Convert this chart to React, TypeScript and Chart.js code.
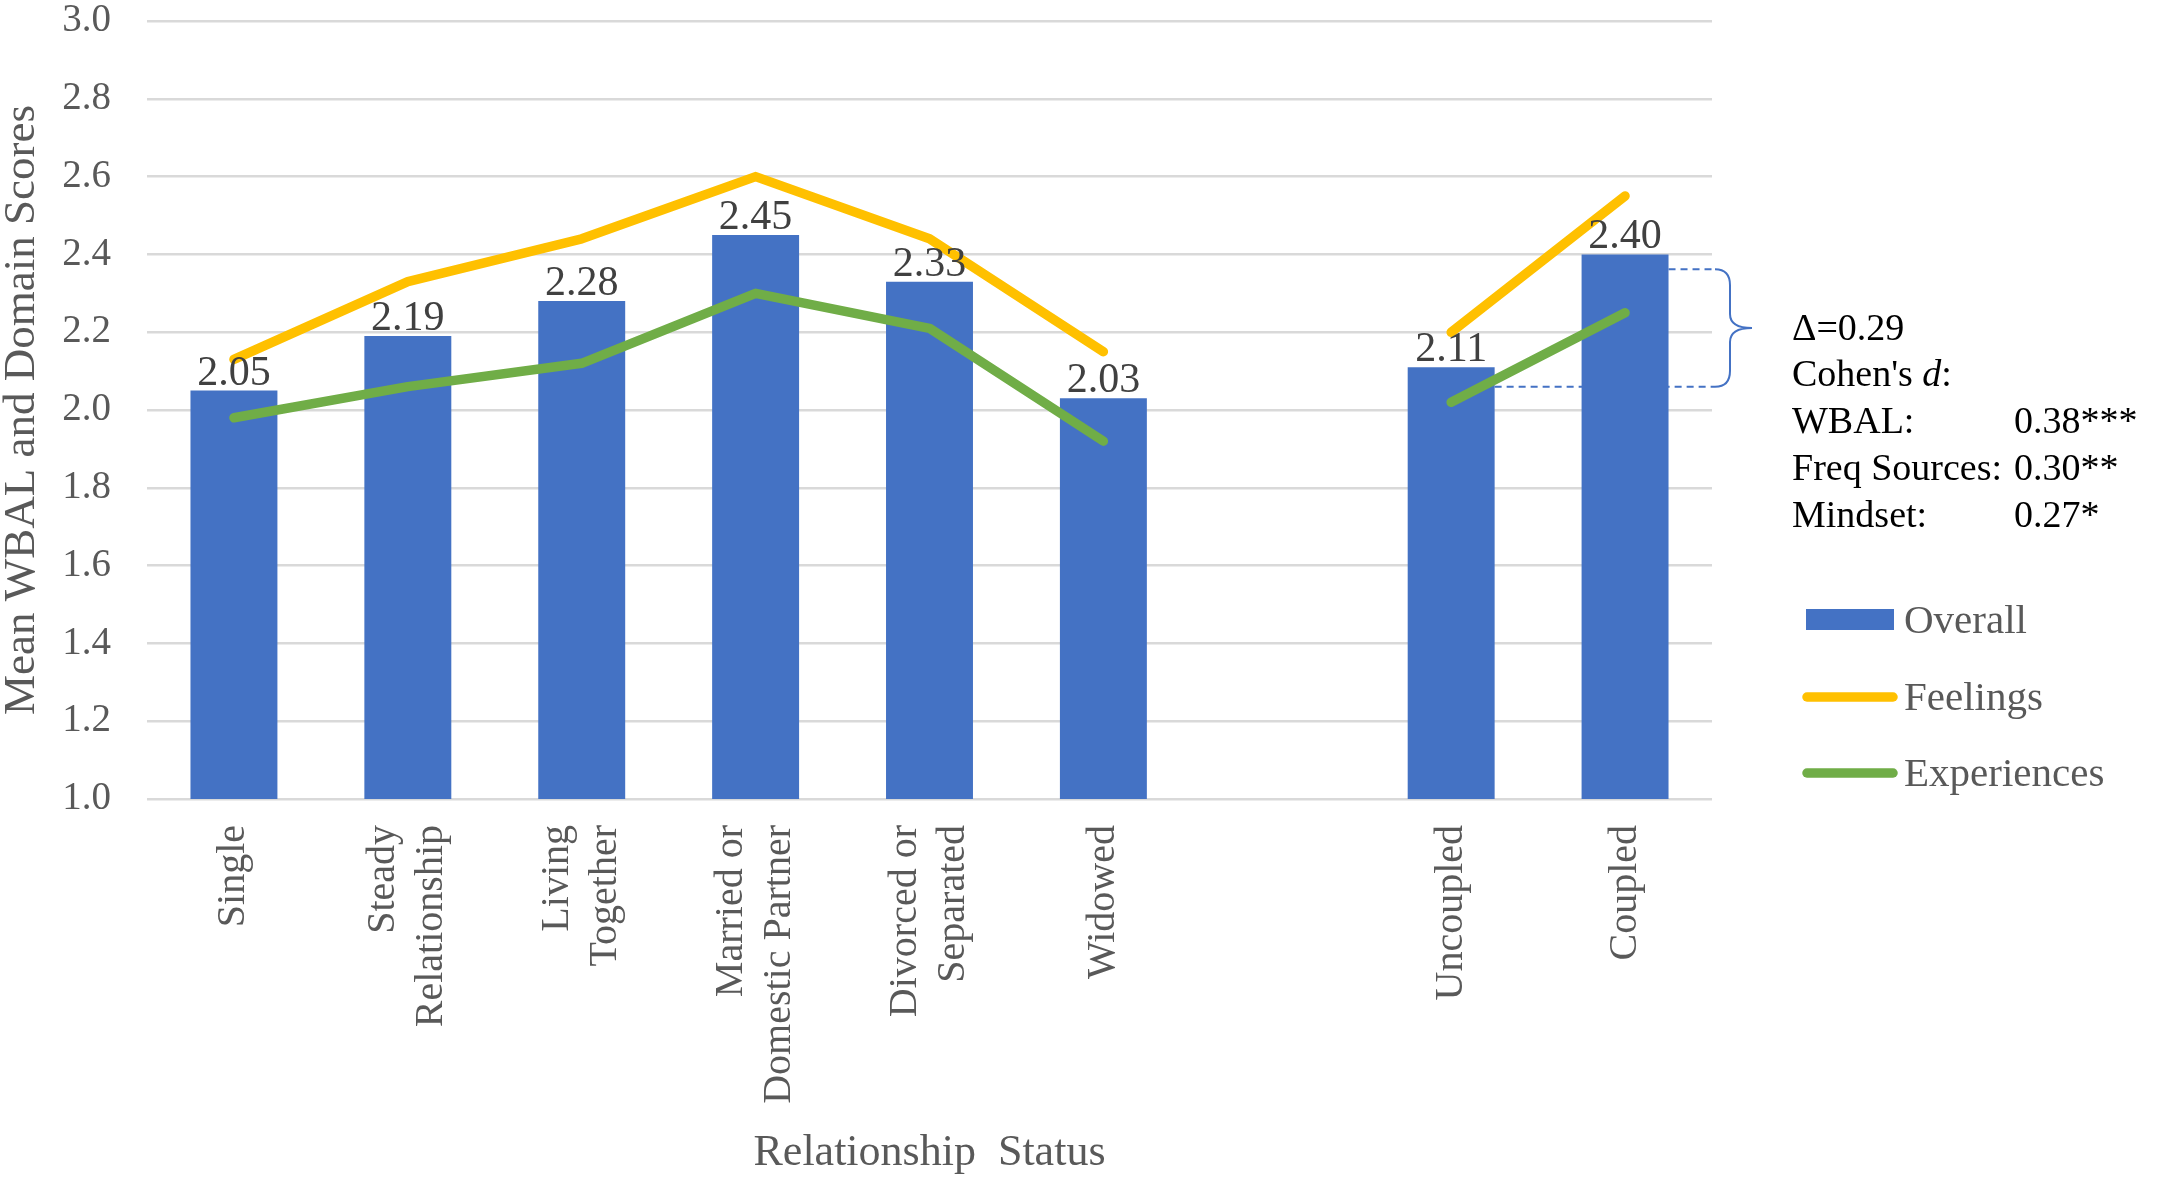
import { useEffect, useRef } from "react";
import { Chart, registerables, type Plugin } from "chart.js";

Chart.register(...registerables);

const statuses: string[][] = [
  ["Single"],
  ["Steady", "Relationship"],
  ["Living", "Together"],
  ["Married or", "Domestic Partner"],
  ["Divorced or", "Separated"],
  ["Widowed"],
  [""],
  ["Uncoupled"],
  ["Coupled"],
];
const overall = [2.05, 2.19, 2.28, 2.45, 2.33, 2.03, null, 2.11, 2.4];
const feelings = [2.13, 2.33, 2.44, 2.6, 2.44, 2.15, null, 2.2, 2.55];
const experiences = [1.98, 2.06, 2.12, 2.3, 2.21, 1.92, null, 2.02, 2.25];
const yRange = [1, 3];
const yStep = 0.2;
const deltaLevels = [2.06, 2.362];
const deltaNote = "Δ=0.29";
const effectNames = ["WBAL:", "Freq Sources:", "Mindset:"];
const effectValues = ["0.38***", "0.30**", "0.27*"];
const seriesNames = ["Overall", "Feelings", "Experiences"];

const BLUE = "#4472C4";
const GOLD = "#FFC000";
const GREEN = "#70AD47";
const GRAY = "#595959";
const SERIF = "'Liberation Serif', 'Times New Roman', serif";

// extra drawing: guides, brace, notes, legend, value labels, category labels
const extras: Plugin<"bar"> = {
  id: "extras",
  beforeDatasetsDraw(chart) {
    const { ctx, chartArea, scales } = chart;
    const bars = chart.getDatasetMeta(0).data as any[];
    const edge = (i: number) => bars[i].x + bars[i].width / 2;
    const yLow = scales.y.getPixelForValue(deltaLevels[0]);
    const yHigh = scales.y.getPixelForValue(deltaLevels[1]);
    ctx.save();
    ctx.strokeStyle = BLUE;
    ctx.lineWidth = 2;
    ctx.setLineDash([7, 5]);
    ctx.beginPath();
    ctx.moveTo(edge(7), yLow);
    ctx.lineTo(chartArea.right + 3, yLow);
    ctx.moveTo(edge(8), yHigh);
    ctx.lineTo(chartArea.right + 3, yHigh);
    ctx.stroke();
    ctx.restore();
  },
  afterDatasetsDraw(chart) {
    const { ctx } = chart;
    const bars = chart.getDatasetMeta(0).data as any[];
    ctx.save();
    ctx.font = `42px ${SERIF}`;
    ctx.fillStyle = "#404040";
    ctx.textAlign = "center";
    ctx.textBaseline = "alphabetic";
    overall.forEach((v, i) => {
      if (v == null) return;
      ctx.fillText(v.toFixed(2), bars[i].x, bars[i].y - 6);
    });
    ctx.restore();
  },
  afterDraw(chart) {
    const { ctx, chartArea, scales } = chart;
    const R = chartArea.right;
    const yLow = scales.y.getPixelForValue(deltaLevels[0]);
    const yHigh = scales.y.getPixelForValue(deltaLevels[1]);
    const mid = (yLow + yHigh) / 2;

    ctx.save();
    // brace
    ctx.strokeStyle = BLUE;
    ctx.lineWidth = 2;
    ctx.beginPath();
    ctx.moveTo(R + 3, yHigh);
    ctx.quadraticCurveTo(R + 18, yHigh, R + 18, yHigh + 16);
    ctx.lineTo(R + 18, mid - 14);
    ctx.quadraticCurveTo(R + 18, mid, R + 40, mid);
    ctx.quadraticCurveTo(R + 18, mid, R + 18, mid + 14);
    ctx.lineTo(R + 18, yLow - 16);
    ctx.quadraticCurveTo(R + 18, yLow, R + 3, yLow);
    ctx.stroke();

    // notes
    const tx = R + 80;
    const vx = R + 302;
    let by = mid + 12;
    ctx.fillStyle = "#000";
    ctx.textAlign = "left";
    ctx.textBaseline = "alphabetic";
    ctx.font = `38px ${SERIF}`;
    ctx.fillText(deltaNote, tx, by);
    by += 46;
    const c1 = "Cohen's ";
    ctx.fillText(c1, tx, by);
    let w = ctx.measureText(c1).width;
    ctx.font = `italic 38px ${SERIF}`;
    ctx.fillText("d", tx + w, by);
    w += ctx.measureText("d").width;
    ctx.font = `38px ${SERIF}`;
    ctx.fillText(":", tx + w, by);
    effectNames.forEach((name, i) => {
      by += 47;
      ctx.fillText(name, tx, by);
      ctx.fillText(effectValues[i], vx, by);
    });

    // legend
    const lx = R + 94;
    const rows = [620, 697, 773];
    ctx.font = `41px ${SERIF}`;
    ctx.textBaseline = "middle";
    seriesNames.forEach((name, i) => {
      const y = rows[i];
      if (i === 0) {
        ctx.fillStyle = BLUE;
        ctx.fillRect(lx, y - 11, 88, 21);
      } else {
        ctx.strokeStyle = i === 1 ? GOLD : GREEN;
        ctx.lineWidth = 9.5;
        ctx.lineCap = "round";
        ctx.beginPath();
        ctx.moveTo(lx + 1, y);
        ctx.lineTo(lx + 87, y);
        ctx.stroke();
      }
      ctx.fillStyle = GRAY;
      ctx.fillText(name, lx + 98, y + 2);
    });

    // category labels, rotated and centred on the category
    const xs = scales.x;
    ctx.font = `40px ${SERIF}`;
    ctx.fillStyle = GRAY;
    ctx.textAlign = "right";
    ctx.textBaseline = "middle";
    statuses.forEach((lines, i) => {
      const cx = xs.getPixelForTick(i);
      lines.forEach((line, j) => {
        if (!line) return;
        const off = (j - (lines.length - 1) / 2) * 48;
        ctx.save();
        ctx.translate(cx + off, chartArea.bottom + 26);
        ctx.rotate(-Math.PI / 2);
        ctx.fillText(line, 0, 0);
        ctx.restore();
      });
    });
    ctx.restore();
  },
};

export default function App() {
  const canvasRef = useRef<HTMLCanvasElement>(null);

  useEffect(() => {
    if (!canvasRef.current) return;
    const chart = new Chart(canvasRef.current, {
      type: "bar",
      data: {
        labels: statuses,
        datasets: [
          {
            type: "bar",
            label: seriesNames[0],
            data: overall,
            backgroundColor: BLUE,
            barPercentage: 0.5,
            categoryPercentage: 1,
            order: 3,
          },
          {
            type: "line",
            label: seriesNames[1],
            data: feelings,
            borderColor: GOLD,
            borderWidth: 9.5,
            borderCapStyle: "round",
            borderJoinStyle: "round",
            pointRadius: 0,
            spanGaps: false,
            order: 1,
          },
          {
            type: "line",
            label: seriesNames[2],
            data: experiences,
            borderColor: GREEN,
            borderWidth: 9.5,
            borderCapStyle: "round",
            borderJoinStyle: "round",
            pointRadius: 0,
            spanGaps: false,
            order: 2,
          },
        ] as any,
      },
      options: {
        responsive: false,
        devicePixelRatio: 1,
        animation: false,
        layout: { padding: { left: 0, right: 456, top: 21, bottom: 0 } },
        plugins: {
          legend: { display: false },
          tooltip: { enabled: false },
        },
        scales: {
          x: {
            type: "category",
            offset: true,
            grid: { display: false },
            border: { display: false },
            ticks: { display: false },
            title: {
              display: true,
              text: "Relationship  Status",
              color: GRAY,
              font: { family: SERIF, size: 44 },
              padding: { top: 4, bottom: 4 },
            },
            afterFit: (s) => {
              s.height = 385;
            },
          },
          y: {
            min: yRange[0],
            max: yRange[1],
            grid: { color: "#d9d9d9", lineWidth: 2.5, drawTicks: false },
            border: { display: false },
            ticks: {
              stepSize: yStep,
              padding: 36,
              color: GRAY,
              font: { family: SERIF, size: 39 },
              callback: (v) => Number(v).toFixed(1),
            },
            title: {
              display: true,
              text: "Mean WBAL and Domain Scores",
              color: GRAY,
              font: { family: SERIF, size: 45, lineHeight: 0.82 },
              padding: { top: 4, bottom: 0 },
            },
            afterFit: (s) => {
              s.width = 147;
              s.paddingTop = 0;
              s.paddingBottom = 0;
            },
          },
        },
      },
      plugins: [extras],
    });
    return () => chart.destroy();
  }, []);

  return (
    <div style={{ position: "fixed", left: 0, top: 0, width: 2168, height: 1184, background: "#fff" }}>
      <canvas ref={canvasRef} width={2168} height={1184} />
    </div>
  );
}
